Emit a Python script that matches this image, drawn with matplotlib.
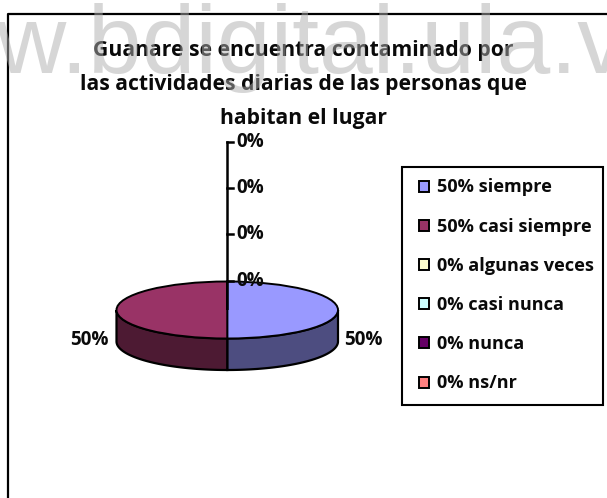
import numpy as np
import matplotlib
matplotlib.use('Agg')
import matplotlib.pyplot as plt
from matplotlib.patches import Rectangle

W, H = 607, 498

categories = ['siempre', 'casi siempre', 'algunas veces', 'casi nunca', 'nunca', 'ns/nr']
values = [50, 50, 0, 0, 0, 0]
colors = ['#9999FF', '#993366', '#FFFFCC', '#CCFFFF', '#660066', '#FF8080']
side_colors = ['#4D4D80', '#4D1A33']
axis_labels = ['0%', '0%', '0%', '0%']
title_lines = ['Guanare se encuentra contaminado por',
               'las actividades diarias de las personas que',
               'habitan el lugar']

plt.rcParams['font.family'] = ['Open Sans', 'DejaVu Sans']
plt.rcParams['font.weight'] = 'bold'

fig = plt.figure(figsize=(W / 100, H / 100), dpi=100, facecolor='white')

# frame, title and watermark are placed in pixel coordinates
bg = fig.add_axes([0, 0, 1, 1])
bg.set_xlim(0, W)
bg.set_ylim(H, 0)
bg.axis('off')

# chart frame, runs off the right and bottom of the picture
bg.plot([W + 5, 8, 8], [13.5, 13.5, H + 5], color='black', lw=1.6, clip_on=False, zorder=2)

for y, line in zip([50, 84, 118], title_lines):
    bg.text(303, y, line, fontsize=15.2, ha='center', va='center', color='#0A0A0A', zorder=3)

# watermark lies over the title, so it is see-through
bg.text(-143, 73, 'www.bdigital.ula.ve', family='Liberation Sans', weight='normal',
        fontsize=69.6, color='#AEAEAE', alpha=0.5, ha='left', va='baseline', zorder=4)

# pie, squashed to an ellipse; the lower part of the axes holds the side wall
left, right, top, bottom = 116.5, 338, 281.5, 370
ry = 28.5
depth = (bottom - top - 2 * ry) / ry
pie_ax = fig.add_axes([left / W, 1 - bottom / H, (right - left) / W, (bottom - top) / H])
pie_ax.patch.set_alpha(0)

fractions = np.array(values) / sum(values)
edges = 90 - 360 * np.concatenate([[0], np.cumsum(fractions)])
for i in range(2):
    # only the part of each slice facing the viewer shows its wall
    a0 = min(edges[i], 0)
    a1 = max(edges[i + 1], -180)
    t = np.radians(np.linspace(a0, a1, 80))
    xs = np.cos(t)
    ys = np.sin(t)
    px = np.concatenate([xs, xs[::-1]])
    py = np.concatenate([ys, ys[::-1] - depth])
    pie_ax.fill(px, py, facecolor=side_colors[i], edgecolor='black', lw=1.6, zorder=1, clip_on=False)

wedges, _ = pie_ax.pie(values, colors=colors, startangle=90, counterclock=False,
                       wedgeprops=dict(edgecolor='black', linewidth=1.4, zorder=2))
for w in wedges:
    w.set_clip_on(False)
pie_ax.set_aspect('auto')
pie_ax.set_xlim(-1, 1)
pie_ax.set_ylim(-1 - depth, 1)
pie_ax.axis('off')

# top layer: value axis, slice labels, legend
fg = fig.add_axes([0, 0, 1, 1])
fg.set_xlim(0, W)
fg.set_ylim(H, 0)
fg.axis('off')

tick_y = [142, 188, 234, 281]
fg.plot([227, 227], [tick_y[0], tick_y[-1]], color='black', lw=1.8)
for y, lab in zip(tick_y, axis_labels):
    fg.plot([227, 233], [y, y], color='black', lw=1.8)
    fg.text(236, y, lab, fontsize=13.6, ha='left', va='center', color='#0A0A0A')
fg.text(89.5, 340, f'{values[1]}%', fontsize=13.6, ha='center', va='center', color='#0A0A0A')
fg.text(363, 340, f'{values[0]}%', fontsize=13.6, ha='center', va='center', color='#0A0A0A')

# legend box is drawn apart so it can keep the reference's uneven padding
fg.add_patch(Rectangle((402, 167), 201, 238, facecolor='white', edgecolor='black', lw=1.5))
legend_labels = [f'{v}% {c}' for v, c in zip(values, categories)]
leg = fg.legend(wedges, legend_labels, loc='upper left',
                bbox_to_anchor=(419 / W, 1 - 178.5 / H), bbox_transform=fig.transFigure,
                fontsize=13.1, frameon=False,
                labelspacing=1.165, handlelength=0.55, handleheight=0.55, handletextpad=0.44,
                borderpad=0, borderaxespad=0, labelcolor='#0A0A0A')

fig.savefig('out.png', dpi=100, facecolor='white')
